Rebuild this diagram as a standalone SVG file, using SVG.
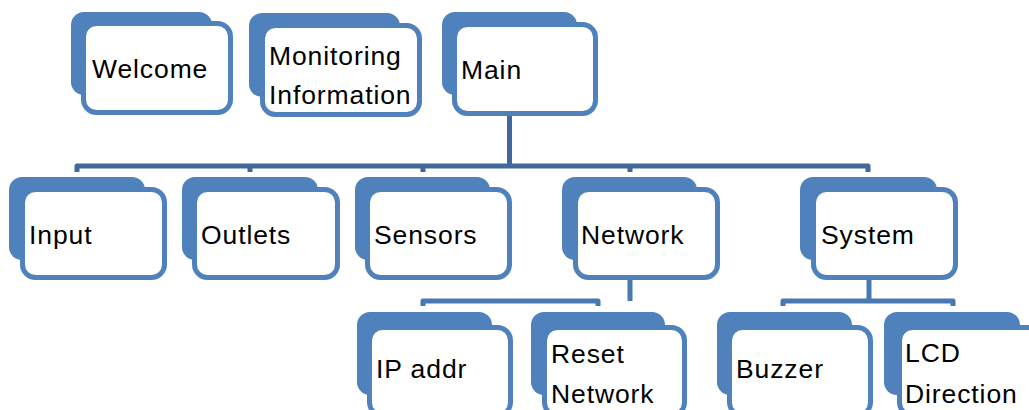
<svg xmlns="http://www.w3.org/2000/svg" width="1029" height="410" viewBox="0 0 1029 410">
<style>
.bk{fill:#4f81bd}
.fr{fill:#ffffff;stroke:#4f81bd;stroke-width:5}
.t{font-family:"Liberation Sans",Arial,sans-serif;font-size:26.5px;letter-spacing:0.9px;fill:#000}
.c1{fill:none;stroke:#41699a;stroke-width:5;stroke-linejoin:round}
.c2{fill:none;stroke:#4a78b2;stroke-width:5;stroke-linejoin:round}
</style>
<rect width="1029" height="410" fill="#ffffff"/>
<g id="connectors">
<path class="c1" d="M509.5,116 V166"/>
<path class="c1" d="M77,172 V166 H868 V172 M250,166 V172 M423,166 V172 M630,166 V172"/>
<path class="c2" d="M630,280 V301 M423,306 V301 H598 V306"/>
<path class="c2" d="M869,280 V301 M783,306 V301 H953 V306"/>
</g>
<g id="welcome">
<rect class="bk" x="71" y="12" width="141" height="83" rx="13"/>
<rect class="fr" x="83.5" y="23.5" width="147" height="89" rx="13"/>
<text class="t" x="92" y="78">Welcome</text>
</g>
<g id="monitoring">
<rect class="bk" x="249" y="13" width="151" height="84" rx="13"/>
<rect class="fr" x="262.5" y="25.5" width="157" height="89" rx="13"/>
<text class="t" x="269" y="65">Monitoring</text>
<text class="t" x="269" y="104">Information</text>
</g>
<g id="main">
<rect class="bk" x="442" y="12" width="135" height="83" rx="13"/>
<rect class="fr" x="454.5" y="24.5" width="141" height="89" rx="13"/>
<text class="t" x="461" y="79">Main</text>
</g>
<g id="input">
<rect class="bk" x="9" y="177" width="136" height="83" rx="13"/>
<rect class="fr" x="22.5" y="189.5" width="142" height="88" rx="13"/>
<text class="t" x="29" y="244">Input</text>
</g>
<g id="outlets">
<rect class="bk" x="182" y="177" width="136" height="83" rx="13"/>
<rect class="fr" x="194.5" y="189.5" width="143" height="88" rx="13"/>
<text class="t" x="201" y="244">Outlets</text>
</g>
<g id="sensors">
<rect class="bk" x="355" y="177" width="135" height="83" rx="13"/>
<rect class="fr" x="367.5" y="189.5" width="142" height="88" rx="13"/>
<text class="t" x="374" y="244">Sensors</text>
</g>
<g id="network">
<rect class="bk" x="562" y="177" width="135" height="83" rx="13"/>
<rect class="fr" x="575.5" y="189.5" width="142" height="88" rx="13"/>
<text class="t" x="581" y="244">Network</text>
</g>
<g id="system">
<rect class="bk" x="800" y="177" width="137" height="83" rx="13"/>
<rect class="fr" x="813.5" y="189.5" width="142" height="88" rx="13"/>
<text class="t" x="821" y="244">System</text>
</g>
<g id="ipaddr">
<rect class="bk" x="357" y="312" width="135" height="83" rx="13"/>
<rect class="fr" x="369.5" y="327.5" width="141" height="88" rx="13"/>
<text class="t" x="376" y="378">IP addr</text>
</g>
<g id="resetnetwork">
<rect class="bk" x="531" y="312" width="134" height="83" rx="13"/>
<rect class="fr" x="544.5" y="327.5" width="140" height="88" rx="13"/>
<text class="t" x="551" y="363">Reset</text>
<text class="t" x="551" y="403">Network</text>
</g>
<g id="buzzer">
<rect class="bk" x="717" y="312" width="135" height="83" rx="13"/>
<rect class="fr" x="729.5" y="327.5" width="141" height="88" rx="13"/>
<text class="t" x="736" y="378">Buzzer</text>
</g>
<g id="lcddirection">
<rect class="bk" x="884" y="312" width="136" height="83" rx="13"/>
<rect class="fr" x="899.5" y="327.5" width="141" height="88" rx="13"/>
<text class="t" x="905" y="362">LCD</text>
<text class="t" x="905" y="403">Direction</text>
</g>
</svg>
